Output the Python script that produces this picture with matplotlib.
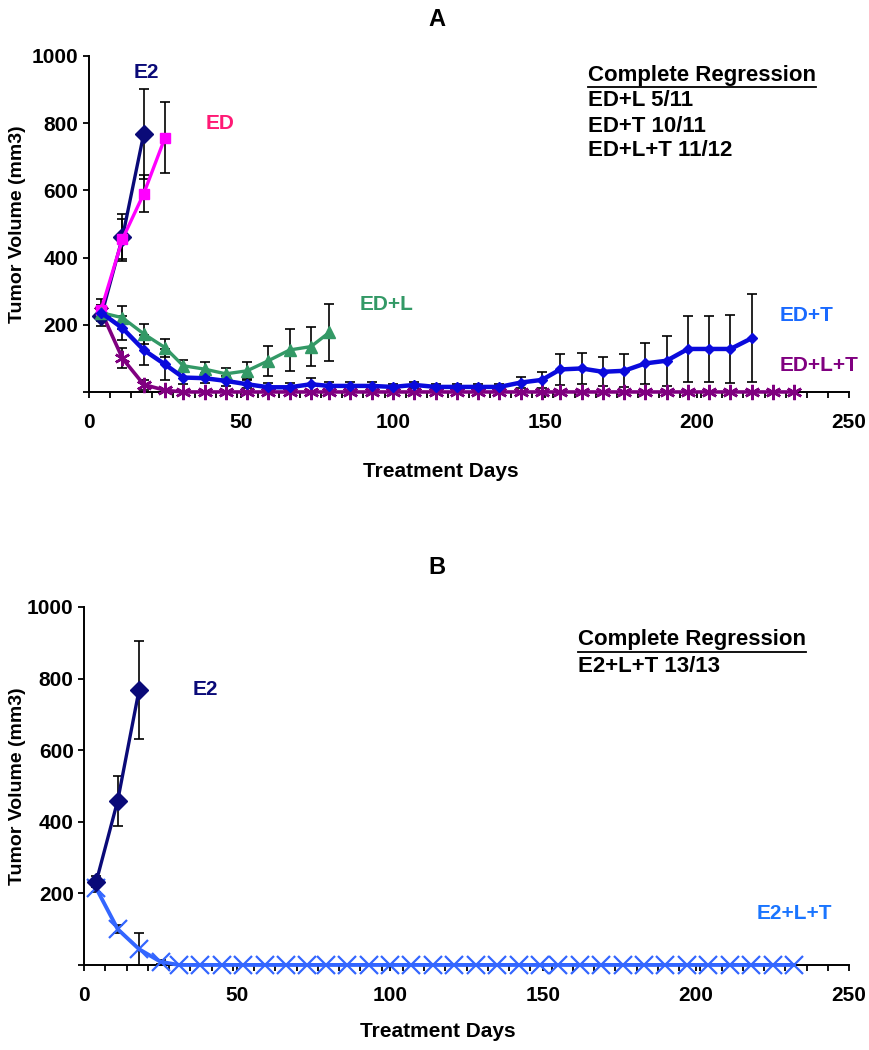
import numpy as np
import matplotlib
matplotlib.use("Agg")
import matplotlib.pyplot as plt
from matplotlib.ticker import MultipleLocator
from matplotlib.lines import Line2D

plt.rcParams['font.family'] = ['Liberation Sans', 'DejaVu Sans']
plt.rcParams['font.weight'] = 'bold'

# treatment days (weekly measurements)
days = [4, 11, 18, 25, 31, 38, 45, 52, 59, 66, 73, 79, 86, 93, 100, 107, 114,
        121, 128, 135, 142, 149, 155, 162, 169, 176, 183, 190, 197, 204, 211,
        218, 225, 232]

# panel A
e2_a = [225, 460, 768]
e2_a_err = [15, 70, 135]
ed = [245, 455, 590, 757]
ed_err = [15, 60, 55, 105]
ed_l = [236, 221, 173, 132, 78, 68, 54, 63, 93, 125, 135, 177]
ed_l_err = [20, 35, 30, 27, 18, 22, 17, 25, 45, 62, 58, 86]
ed_t = [236, 190, 125, 82, 43, 41, 33, 23, 14, 14, 23, 18, 18, 18, 15, 21,
        15, 15, 15, 15, 28, 36, 67, 70, 60, 63, 85, 93, 128, 128, 128, 160]
ed_t_err = [40, 35, 45, 45, 20, 15, 15, 12, 12, 12, 20, 12, 12, 12, 10, 10,
            10, 10, 10, 10, 16, 24, 45, 45, 43, 49, 60, 74, 97, 97, 101, 131]
ed_l_t = [240, 100, 22, 5, 0, 0, 0, 0, 0, 0, 0, 0, 0, 0, 0, 0, 0, 0, 0, 0,
          0, 0, 0, 0, 0, 0, 0, 0, 0, 0, 0, 0, 0, 0]
ed_l_t_err = [20, 30, 15, 5, 0, 0, 0, 0, 0, 0, 0, 0, 0, 0, 0, 0, 0, 0, 0, 0,
              0, 0, 0, 0, 0, 0, 0, 0, 0, 0, 0, 0, 0, 0]

# panel B
e2_b = [233, 459, 769]
e2_b_err = [15, 70, 137]
e2_l_t = [214, 100, 44, 9, 0, 0, 0, 0, 0, 0, 0, 0, 0, 0, 0, 0, 0, 0, 0, 0,
          0, 0, 0, 0, 0, 0, 0, 0, 0, 0, 0, 0, 0, 0]
e2_l_t_err = [10, 12, 46, 5, 0, 0, 0, 0, 0, 0, 0, 0, 0, 0, 0, 0, 0, 0, 0, 0,
              0, 0, 0, 0, 0, 0, 0, 0, 0, 0, 0, 0, 0, 0]

yticks = [200, 400, 600, 800, 1000]
xticks = [0, 50, 100, 150, 200, 250]

asterisk = (6, 2, 0)
FS = 15


def series(ax, y, err, color, marker, ms, lw=2.4, mew=1.0, mfc=None):
    x = np.array(days[:len(y)])
    y = np.array(y, dtype=float)
    e = np.array(err, dtype=float)
    m = e > 0
    ax.errorbar(x[m], y[m], yerr=e[m], fmt='none', ecolor='black',
                elinewidth=1.2, capsize=3.5, capthick=1.2, zorder=2)
    ax.plot(x, y, color=color, lw=lw, marker=marker, ms=ms, mew=mew,
            mfc=mfc if mfc else color, mec=color, zorder=3, clip_on=False)


def style(ax, ylab_x, xlab_y):
    ax.set_xlim(0, 250)
    ax.set_ylim(0, 1000)
    for s in ['top', 'right']:
        ax.spines[s].set_visible(False)
    for s in ['left', 'bottom']:
        ax.spines[s].set_linewidth(1.4)
    ax.set_yticks([0] + yticks)
    ax.set_yticklabels([''] + [str(v) for v in yticks])
    ax.set_xticks(xticks)
    ax.xaxis.set_minor_locator(MultipleLocator(250 / 36))
    ax.tick_params(axis='both', which='both', direction='out', length=4.5,
                   width=1.3, labelsize=FS)
    ax.tick_params(axis='x', pad=11)
    ax.tick_params(axis='y', pad=3)
    for lab in ax.get_xticklabels() + ax.get_yticklabels():
        lab.set_fontweight('bold')
    ax.set_xlabel('Treatment Days', fontsize=FS, fontweight='bold')
    ax.set_ylabel('Tumor Volume (mm3)', fontsize=14, fontweight='bold')
    ax.xaxis.set_label_coords(0.463, xlab_y)
    ax.yaxis.set_label_coords(ylab_x, 0.5)


fig = plt.figure(figsize=(8.7, 10.5), dpi=100)
ax1 = fig.add_axes([0.1023, 0.6267, 0.8736, 0.32])
ax2 = fig.add_axes([0.0966, 0.081, 0.8793, 0.341])

# panel A
series(ax1, ed_l_t, ed_l_t_err, '#800080', asterisk, 11, lw=2.6, mew=1.8)
series(ax1, e2_a, e2_a_err, '#0A0A78', 'D', 9)
series(ax1, ed, ed_err, '#FF00FF', 's', 7.5)
series(ax1, ed_l, ed_l_err, '#339966', '^', 9)
series(ax1, ed_t, ed_t_err, '#0A0ADC', 'D', 5.5, lw=3.2)
style(ax1, -0.083, -0.208)

ax1.text(19, 952, 'E2', color='#0A0A78', fontsize=FS, fontweight='bold', ha='center', va='center')
ax1.text(43, 800, 'ED', color='#FF1A75', fontsize=FS, fontweight='bold', ha='center', va='center')
ax1.text(98, 259, 'ED+L', color='#339966', fontsize=FS, fontweight='bold', ha='center', va='center')
ax1.text(236, 229, 'ED+T', color='#1A6AFF', fontsize=FS, fontweight='bold', ha='center', va='center')
ax1.text(240, 78, 'ED+L+T', color='#800080', fontsize=FS, fontweight='bold', ha='center', va='center')

# panel B
series(ax2, e2_l_t, e2_l_t_err, '#3366FF', 'x', 12.5, lw=2.8, mew=1.6)
series(ax2, e2_b, e2_b_err, '#0A0A78', 'D', 9)
style(ax2, -0.076, -0.159)

ax2.text(39.5, 769, 'E2', color='#0A0A78', fontsize=FS, fontweight='bold', ha='center', va='center')
ax2.text(232, 145, 'E2+L+T', color='#1A75FF', fontsize=FS, fontweight='bold', ha='center', va='center')

fig.text(0.502, 0.981, 'A', fontsize=17, fontweight='bold', ha='center', va='center')
fig.text(0.502, 0.46, 'B', fontsize=17, fontweight='bold', ha='center', va='center')

# complete regression notes
heads = []
heads.append(fig.text(588 / 870, 1 - 75 / 1050, 'Complete Regression', fontsize=16,
                      fontweight='bold', ha='left', va='center'))
for i, s in enumerate(['ED+L 5/11', 'ED+T 10/11', 'ED+L+T 11/12']):
    fig.text(588 / 870, 1 - (101 + 25 * i) / 1050, s, fontsize=16,
             fontweight='bold', ha='left', va='center')
heads.append(fig.text(578 / 870, 1 - 640 / 1050, 'Complete Regression', fontsize=16,
                      fontweight='bold', ha='left', va='center'))
fig.text(578 / 870, 1 - 666 / 1050, 'E2+L+T 13/13', fontsize=16,
         fontweight='bold', ha='left', va='center')

fig.canvas.draw()
for t in heads:
    bb = t.get_window_extent()
    W, H = fig.bbox.width, fig.bbox.height
    y = (bb.y0 - 1) / H
    fig.add_artist(Line2D([bb.x0 / W, bb.x1 / W], [y, y], color='black', lw=1.3))

fig.savefig('out.png', dpi=100)
